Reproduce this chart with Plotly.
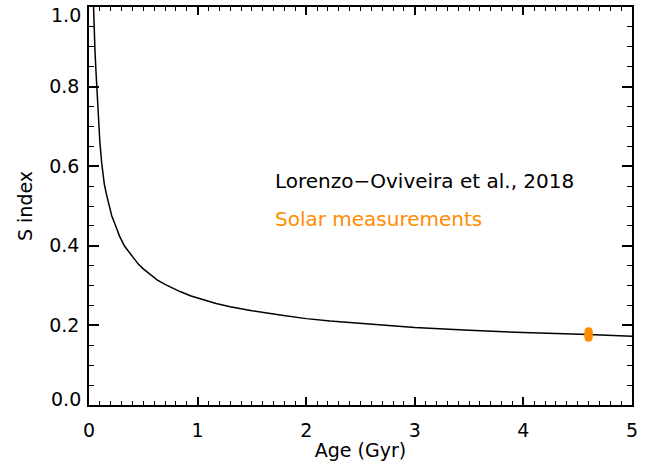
import plotly.graph_objects as go

# Lorenzo-Oliveira et al. (2018) age-activity relation
age_gyr = [0.035, 0.04, 0.047, 0.055, 0.064, 0.074, 0.086, 0.10, 0.117, 0.141,
           0.16, 0.184, 0.21, 0.246, 0.28, 0.325, 0.378, 0.454, 0.50, 0.562,
           0.63, 0.70, 0.77, 0.838, 0.94, 1.05, 1.17, 1.30, 1.5, 1.76,
           2.0, 2.22, 2.5, 2.68, 3.0, 3.5, 4.0, 4.6, 5.0]
s_index = [1.06, 1.00, 0.95, 0.89, 0.84, 0.79, 0.715, 0.66, 0.608, 0.555,
           0.53, 0.505, 0.475, 0.45, 0.425, 0.40, 0.38, 0.354, 0.342, 0.328,
           0.314, 0.303, 0.293, 0.285, 0.274, 0.264, 0.255, 0.247, 0.237, 0.226,
           0.217, 0.211, 0.205, 0.201, 0.195, 0.188, 0.182, 0.177, 0.173]

# solar measurements
sun_age = [4.6, 4.6, 4.6, 4.6, 4.6, 4.6]
sun_s = [0.169, 0.173, 0.176, 0.178, 0.181, 0.185]

x_ticks = [0, 1, 2, 3, 4, 5]
y_ticks = [0.0, 0.2, 0.4, 0.6, 0.8, 1.0]
# end labels are placed by hand (IDL pulls them inside the box)
y_labels = ['', '0.2', '0.4', '0.6', '0.8', '']

orange = '#FF8C00'
font = 'DejaVu Sans'
fs = 19

fig = go.Figure()

fig.add_trace(go.Scatter(
    x=age_gyr, y=s_index, mode='lines',
    line=dict(color='black', width=1.5),
    showlegend=False
))

fig.add_trace(go.Scatter(
    x=sun_age, y=sun_s, mode='markers',
    marker=dict(color=orange, size=8, line=dict(width=0)),
    showlegend=False
))

fig.add_annotation(x=1.69, y=0.5625, xref='x', yref='y', xanchor='left',
                   text='Lorenzo\u2212Oviveira et al., 2018', showarrow=False,
                   font=dict(family=font, size=20, color='black'))
fig.add_annotation(x=1.69, y=0.4675, xref='x', yref='y', xanchor='left',
                   text='Solar measurements', showarrow=False,
                   font=dict(family=font, size=20, color=orange))

# y labels at the ends of the axis
fig.add_annotation(x=0, y=0.0, xref='paper', yref='y', xanchor='right', yanchor='middle',
                   xshift=-6, yshift=6, text='0.0', showarrow=False,
                   font=dict(family=font, size=fs, color='black'))
fig.add_annotation(x=0, y=1.0, xref='paper', yref='y', xanchor='right', yanchor='middle',
                   xshift=-6, yshift=-8, text='1.0', showarrow=False,
                   font=dict(family=font, size=fs, color='black'))

axis_common = dict(
    showline=True, linecolor='black', linewidth=1.5, mirror='ticks',
    ticks='inside', tickcolor='black', tickwidth=1.5,
    showgrid=False, zeroline=False,
    tickfont=dict(family=font, size=fs, color='black'),
)

fig.update_xaxes(
    range=[0, 5], tickvals=x_ticks, ticktext=[str(v) for v in x_ticks], ticklen=8,
    minor=dict(ticks='inside', ticklen=4, dtick=0.1, tickcolor='black', tickwidth=1),
    title=dict(text='Age (Gyr)', font=dict(family=font, size=fs, color='black'), standoff=4),
    ticklabelstandoff=7,
    **axis_common
)
fig.update_yaxes(
    range=[0, 1.0], tickvals=y_ticks, ticktext=y_labels, ticklen=10,
    minor=dict(ticks='inside', ticklen=5, dtick=0.05, tickcolor='black', tickwidth=1),
    title=dict(text='S index', font=dict(family=font, size=fs, color='black'), standoff=12),
    ticklabelstandoff=4,
    **axis_common
)

fig.update_layout(
    width=664, height=474,
    margin=dict(l=89, r=32, t=5, b=69),
    plot_bgcolor='white', paper_bgcolor='white',
)

fig.write_html("out.html", config={'displayModeBar': False},
               post_script="document.body.style.margin='0';")
